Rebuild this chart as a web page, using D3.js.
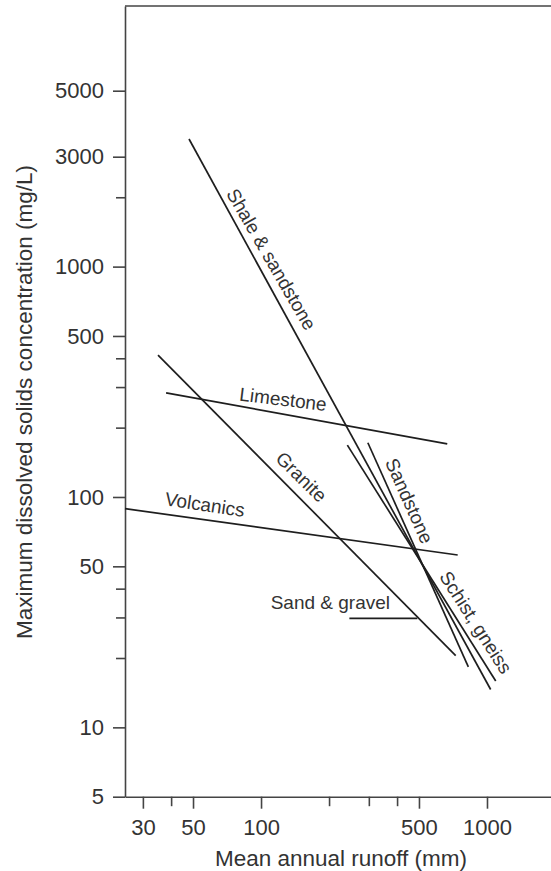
<!DOCTYPE html>
<html>
<head>
<meta charset="utf-8">
<script src="https://cdn.jsdelivr.net/npm/d3@7"></script>
<style>
  html, body { margin: 0; padding: 0; background: #fff; }
  svg { display: block; font-family: "Liberation Sans", Arial, Helvetica, sans-serif; }
</style>
</head>
<body>
<svg id="chart" width="551" height="871"></svg>
<script>
// ---- Data ----
const seriesNames = ["Shale & sandstone", "Limestone", "Granite", "Volcanics", "Sand & gravel", "Sandstone", "Schist, gneiss"];
// Mean annual runoff (mm) at start / end of each line
const runoffStart = [48, 38, 35, 25, 246, 297, 241];
const runoffEnd   = [1038, 667, 727, 742, 492, 827, 1093];
// Maximum dissolved solids concentration (mg/L) at start / end of each line
const tdsStart = [3440, 283, 413, 89, 29.7, 172, 168];
const tdsEnd   = [14.6, 170, 20.5, 56, 29.7, 18.3, 15.9];

// Axis ticks
const xTickValues = [30, 50, 100, 500, 1000];
const xMinorTicks = [40, 200, 300, 400];
const yTickValues = [5, 10, 50, 100, 500, 1000, 3000, 5000];
const yMinorTicks = [20, 30, 40, 200, 300, 400, 2000];
const xTitle = "Mean annual runoff (mm)";
const yTitle = "Maximum dissolved solids concentration (mg/L)";

// ---- Layout / style (not data) ----
const xDomain = [25, 1920];
const yDomain = [5, 3000, 5000, 9630];   // the original axis is stretched above 3000
const yRange  = [796.7, 156.7, 90.7, 6];
const plotLeft = 125, plotRight = 551, plotTop = 6;
// label placement: fraction along line, perpendicular offset (px), rotation (deg)
const labelT      = [0.231, 0.407, 0.443, 0.234, -0.28, 0.285, 0.784];
const labelOffset = [14.4, 14.6, 16, 15, 15.6, 14, 14.3];
const labelAngle  = [60, 7, 44.5, 8.5, 0, 66, 57.5];

const textColor = "#333";
const lineColor = "#1e1e1e";
const axisColor = "#444";

const svg = d3.select("#chart");

const x = d3.scaleLog().domain(xDomain).range([plotLeft, plotRight]);
const y = d3.scaleLog().domain(yDomain).range(yRange);
const yBottom = yRange[0];

// top frame line
svg.append("line")
  .attr("x1", plotLeft).attr("x2", plotRight)
  .attr("y1", plotTop).attr("y2", plotTop)
  .attr("stroke", axisColor).attr("stroke-width", 1.6);

// ---- Axes ----
function styleAxis(g) {
  g.select(".domain").attr("stroke", axisColor).attr("stroke-width", 1.6);
  g.selectAll(".tick line").attr("stroke", axisColor).attr("stroke-width", 1.6);
  g.selectAll(".tick text").attr("fill", textColor).attr("font-size", 22)
    .attr("font-family", "'Liberation Sans', Arial, Helvetica, sans-serif");
}

const xAxisG = svg.append("g").attr("transform", `translate(0,${yBottom})`)
  .call(d3.axisBottom(x).tickValues(xTickValues).tickFormat(d3.format("d"))
        .tickSize(12).tickSizeOuter(0).tickPadding(11));
styleAxis(xAxisG);
const xMinorG = svg.append("g").attr("transform", `translate(0,${yBottom})`)
  .call(d3.axisBottom(x).tickValues(xMinorTicks).tickFormat("").tickSize(9.5).tickSizeOuter(0));
styleAxis(xMinorG);
xMinorG.select(".domain").remove();

const yAxisG = svg.append("g").attr("transform", `translate(${plotLeft},0)`)
  .call(d3.axisLeft(y).tickValues(yTickValues).tickFormat(d3.format("d"))
        .tickSize(12).tickSizeOuter(0).tickPadding(9));
styleAxis(yAxisG);
const yMinorG = svg.append("g").attr("transform", `translate(${plotLeft},0)`)
  .call(d3.axisLeft(y).tickValues(yMinorTicks).tickFormat("").tickSize(9).tickSizeOuter(0));
styleAxis(yMinorG);
yMinorG.select(".domain").remove();

// axis titles
svg.append("text")
  .attr("x", 341).attr("y", 866)
  .attr("text-anchor", "middle")
  .attr("font-size", 22.5).attr("fill", textColor)
  .text(xTitle);

svg.append("text")
  .attr("transform", "translate(31.5,402) rotate(-90)")
  .attr("text-anchor", "middle")
  .attr("font-size", 22.5).attr("fill", textColor)
  .text(yTitle);

// ---- Lines ----
const series = seriesNames.map((name, i) => ({
  name,
  p0: [x(runoffStart[i]), y(tdsStart[i])],
  p1: [x(runoffEnd[i]), y(tdsEnd[i])],
  t: labelT[i], d: labelOffset[i], a: labelAngle[i]
}));

svg.append("g").selectAll("line").data(series).join("line")
  .attr("x1", d => d.p0[0]).attr("y1", d => d.p0[1])
  .attr("x2", d => d.p1[0]).attr("y2", d => d.p1[1])
  .attr("stroke", lineColor).attr("stroke-width", 1.7)
  .attr("stroke-linecap", "butt");

// ---- Line labels ----
svg.append("g").selectAll("text").data(series).join("text")
  .attr("transform", d => {
    const dx = d.p1[0] - d.p0[0], dy = d.p1[1] - d.p0[1];
    const len = Math.hypot(dx, dy);
    const ux = dx / len, uy = dy / len;
    const nx = uy, ny = -ux;
    const px = d.p0[0] + ux * d.t * len + nx * d.d;
    const py = d.p0[1] + uy * d.t * len + ny * d.d;
    return `translate(${px},${py}) rotate(${d.a})`;
  })
  .attr("text-anchor", "middle")
  .attr("dominant-baseline", "central")
  .attr("font-size", 19)
  .attr("fill", textColor)
  .text(d => d.name);
</script>
</body>
</html>
